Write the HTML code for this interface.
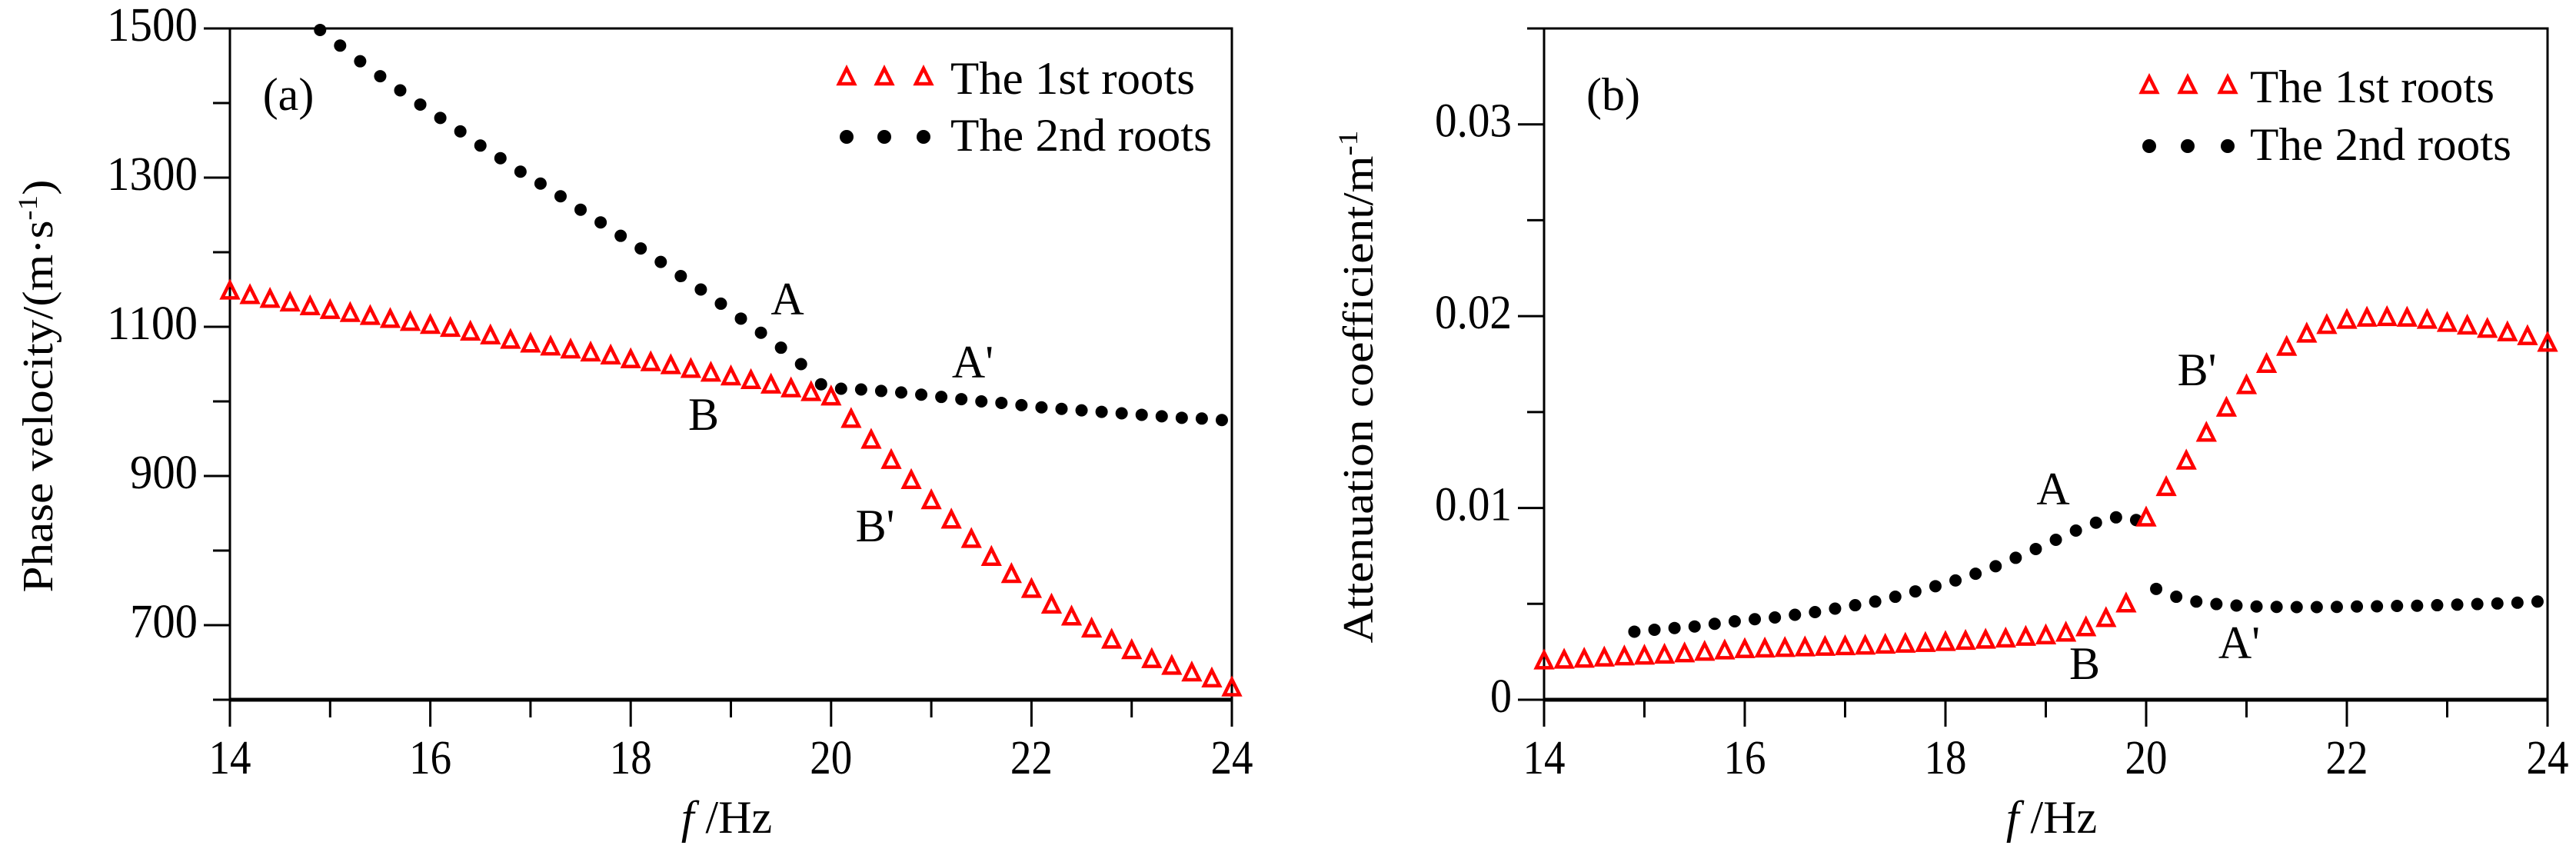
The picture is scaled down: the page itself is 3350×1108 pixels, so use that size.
<!DOCTYPE html>
<html><head><meta charset="utf-8"><style>
html,body{margin:0;padding:0;background:#fff;}
svg{display:block;}
svg text{font-family:"Liberation Serif","Times New Roman",serif;}
</style></head><body>
<svg id="chart" width="3350" height="1108" viewBox="0 0 3350 1108" xmlns="http://www.w3.org/2000/svg"></svg>
<script>
// ---- Panel (a) data ----
const freqA1 = [];
for (let i = 0; i <= 50; i++) freqA1.push(+(14 + 0.2 * i).toFixed(1));
const velocity1st = [1147,1141,1136,1131,1126,1121,1117,1113,1109,1105,1101,1097,1092,1087,1081,1076,1072,1068,1064,1060,1055,1051,1047,1042,1037,1032,1027,1021,1016,1011,1005,975,947,920,893,866,840,814,790,767,747,726,710,694,679,665,653,644,635,627,615];
const freqA2 = [];
for (let i = 0; i <= 45; i++) freqA2.push(+(14.9 + 0.2 * i).toFixed(1));
const velocity2nd = [1498,1477,1456,1436,1417,1398,1380,1362,1343,1326,1308,1292,1275,1257,1240,1222,1205,1187,1168,1150,1131,1111,1092,1072,1050,1023,1017,1016,1014,1012,1009,1006,1003,1000,998,995,992,990,988,986,984,982,980,978,977,975];
const yTicksA = [700,900,1100,1300,1500];
// ---- Panel (b) data ----
const atten1st = [0.00199,0.00203,0.00208,0.00214,0.00220,0.00224,0.00229,0.00236,0.00244,0.00251,0.00258,0.00261,0.00264,0.00267,0.00270,0.00273,0.00276,0.00281,0.00286,0.00290,0.00295,0.00301,0.00307,0.00313,0.00322,0.00330,0.00344,0.00372,0.00420,0.00496,0.00944,0.01103,0.01241,0.01386,0.01517,0.01634,0.01745,0.01834,0.01903,0.01948,0.01975,0.01986,0.01989,0.01986,0.01975,0.01959,0.01945,0.01928,0.01910,0.01890,0.01855];
const atten2nd = [0.00355,0.00365,0.00374,0.00382,0.00396,0.00409,0.00420,0.00429,0.00443,0.00457,0.00475,0.00493,0.00512,0.00537,0.00565,0.00592,0.00622,0.00657,0.00696,0.00740,0.00786,0.00834,0.00882,0.00923,0.00951,0.00937,0.00578,0.00537,0.00512,0.00499,0.00491,0.00486,0.00484,0.00483,0.00483,0.00484,0.00486,0.00487,0.00489,0.00490,0.00493,0.00496,0.00499,0.00502,0.00506,0.00512];
const yTicksB = [0, 0.01, 0.02, 0.03];
const yTickLabelsB = ["0","0.01","0.02","0.03"];
const xTicks = [14,16,18,20,22,24];

const NS = "http://www.w3.org/2000/svg";
const svg = document.getElementById("chart");
const FONT = '"Liberation Serif", "Times New Roman", serif';
function mk(tag, attrs, parent) {
  const e = document.createElementNS(NS, tag);
  for (const k in attrs) e.setAttribute(k, attrs[k]);
  (parent || svg).appendChild(e);
  return e;
}
function txt(str, attrs, parent) { attrs["font-family"] = FONT; const t = mk("text", attrs, parent); t.textContent = str; return t; }

function panel(cfg) {
  const g = mk("g", {});
  
  
  const L = cfg.left, R = cfg.right, T = 37, B = 910;
  const xs = f => L + (f - 14) / 10 * (R - L);
  const ys = v => B - (v - cfg.ymin) / (cfg.ymax - cfg.ymin) * (B - T);
  const fr = mk("rect", {x:L, y:T, width:R-L, height:B-T, fill:"none", stroke:"#000", "stroke-width":3}, g);
  
  
  const xa = mk("line", {x1:L, x2:R, y1:B, y2:B, stroke:"#000", "stroke-width":5}, g);
  
  
  for (let f = 14; f <= 24; f++) {
    const major = f % 2 === 0;
    mk("line", {x1:xs(f), x2:xs(f), y1:B, y2:B + (major ? 35 : 23), stroke:"#000", "stroke-width":3}, g);
  }
  xTicks.forEach(f => {
    const t = txt(String(f), {x:xs(f), y:1006, "font-size":62, "text-anchor":"middle", textLength:55, lengthAdjust:"spacingAndGlyphs"}, g);
    
    
  });
  for (let v = cfg.ymin; v <= cfg.ymax + 1e-9; v += cfg.minorStep) {
    const vv = +v.toFixed(6);
    const major = cfg.yTicks.some(t => Math.abs(t - vv) < 1e-9);
    mk("line", {x1:L - (major ? 34 : 22), x2:L, y1:ys(vv), y2:ys(vv), stroke:"#000", "stroke-width":3}, g);
  }
  cfg.yTicks.forEach((v, i) => {
    const s = cfg.yLabels[i];
    const t = txt(s, {x:L - 42, y:ys(v) + 16, "font-size":62, "text-anchor":"end", textLength:cfg.labW(s), lengthAdjust:"spacingAndGlyphs"}, g);
    
    
  });
  const yt = txt(cfg.ytitle, {x:0, y:0, "font-size":56, "text-anchor":"middle", textLength:cfg.ytLen, lengthAdjust:"spacingAndGlyphs", transform:`translate(${cfg.ytX},${cfg.ytY}) rotate(-90)`}, g);
  if (cfg.sup) { const sp = mk("tspan", {"baseline-shift":"super", "font-size":36}, yt); sp.textContent = cfg.sup; if (cfg.after) { const a = mk("tspan", {}, yt); a.textContent = cfg.after; } }
  
  
  const xt = txt("", {x:cfg.xtX, y:1083, "font-size":60, "text-anchor":"middle"}, g);
  const fi = mk("tspan", {"font-style":"italic"}, xt); fi.textContent = "f ";
  const hz = mk("tspan", {}, xt); hz.textContent = "/Hz";
  
  
  const pl = txt(cfg.plabel, {x:cfg.plX, y:143, "font-size":60, "text-anchor":"middle"}, g);
  
  
  cfg.f2.forEach((f, i) => {
    const c = mk("circle", {cx:xs(f), cy:ys(cfg.s2[i]), r:8, fill:"#000"}, g);
    
    
  });
  cfg.f1.forEach((f, i) => {
    const x = xs(f), y = ys(cfg.s1[i]);
    const p = mk("polygon", {points:`${x},${y-12} ${x-10},${y+8} ${x+10},${y+8}`, fill:"none", stroke:"#f00", "stroke-width":4.5, "stroke-linejoin":"miter"}, g);
    
    
  });
  cfg.ann.forEach(a => {
    const t = txt(a[0], {x:a[1], y:a[2] + 21, "font-size":60, "text-anchor":"middle"}, g);
    
    
  });
  const lg = mk("g", {}, g);
  
  
  cfg.legTri.forEach(x => mk("polygon", {points:`${x},${cfg.legY1-11} ${x-10},${cfg.legY1+9} ${x+10},${cfg.legY1+9}`, fill:"none", stroke:"#f00", "stroke-width":4.5}, lg));
  cfg.legTri.forEach(x => mk("circle", {cx:x, cy:cfg.legY2, r:9, fill:"#000"}, lg));
  const l1 = txt("The 1st roots", {x:cfg.legTX, y:cfg.legY1 + 22, "font-size":60, textLength:318, lengthAdjust:"spacingAndGlyphs"}, lg);
  
  
  const l2 = txt("The 2nd roots", {x:cfg.legTX, y:cfg.legY2 + 18, "font-size":60, textLength:340, lengthAdjust:"spacingAndGlyphs"}, lg);
  
  
}

panel({name:"panel-a-phase-velocity", left:299, right:1602, ymin:600, ymax:1500, minorStep:100,
  yTicks:yTicksA, yLabels:yTicksA.map(String), labW:s => s.length === 4 ? 118 : 88,
  ytitle:"Phase velocity/(m·s", sup:"-1", after:")", ytLen:537, ytX:68, ytY:502,
  xtX:945, plabel:"(a)", plX:375,
  f1:freqA1, s1:velocity1st, f2:freqA2, s2:velocity2nd,
  ann:[["A",1024,388],["A'",1265,470],["B",915,538],["B'",1138,683]],
  legTri:[1101,1150,1201], legY1:100, legY2:178, legTX:1236});

panel({name:"panel-b-attenuation", left:2008, right:3313, ymin:0, ymax:0.035, minorStep:0.005,
  yTicks:yTicksB, yLabels:yTickLabelsB, labW:s => s.length === 1 ? 28 : 100,
  ytitle:"Attenuation coefficient/m", sup:"-1", ytLen:667, ytX:1785, ytY:503,
  xtX:2668, plabel:"(b)", plX:2098,
  f1:freqA1, s1:atten1st, f2:freqA2, s2:atten2nd,
  ann:[["A",2670,635],["A'",2912,835],["B",2711,862],["B'",2857,480]],
  legTri:[2795,2845,2897], legY1:111, legY2:190, legTX:2926});
</script>
</body></html>
